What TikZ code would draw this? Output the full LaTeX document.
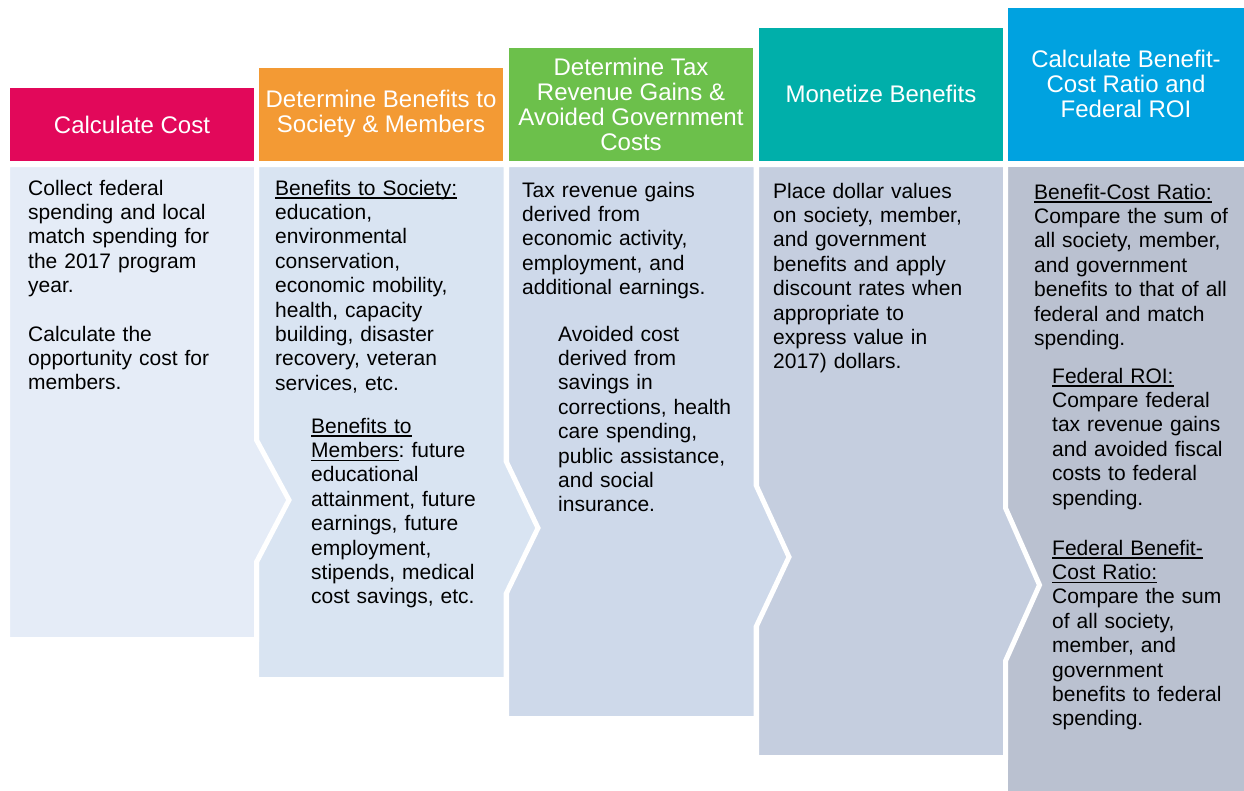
\documentclass[tikz,border=0pt]{standalone}
\usepackage{fontspec}
\setmainfont{Liberation Sans}
\frenchspacing
\newcommand{\myul}[1]{\leavevmode\setbox0\hbox{#1}\rlap{\rule[-3.5pt]{\wd0}{1.4pt}}\box0}
\definecolor{hdrA}{HTML}{E2085A}
\definecolor{hdrB}{HTML}{F39A34}
\definecolor{hdrC}{HTML}{6CC04B}
\definecolor{hdrD}{HTML}{00AFAA}
\definecolor{hdrE}{HTML}{00A2E0}
\definecolor{bodA}{HTML}{E5ECF7}
\definecolor{bodB}{HTML}{D9E4F2}
\definecolor{bodC}{HTML}{CED9EA}
\definecolor{bodD}{HTML}{C5CEDF}
\definecolor{bodE}{HTML}{BAC1D0}
\begin{document}
\begin{tikzpicture}[x=1pt,y=-1pt,
  bodyshape/.style={draw=white,line width=5pt},
  hdrtext/.style={text=white,align=center,inner sep=0pt,font=\fontsize{24}{25}\selectfont},
  bodytext/.style={anchor=base west,inner sep=0pt,text width=240pt,align=left,
    font=\fontsize{21}{24.4}\selectfont\frenchspacing,text=black}]
\useasboundingbox (0,0) rectangle (1244,790);
\path[clip] (0,0) rectangle (1244,790);
\fill[white] (0,0) rectangle (1244,790);
% bodies, drawn right to left
\path[bodyshape,fill=bodE] (1005.5,164.5) rectangle (1260,810);
\path[bodyshape,fill=bodD] (756.5,164.5) -- (1005.5,164.5) -- (1005.5,508) -- (1039.5,585) -- (1005.5,661) -- (1005.5,757.5) -- (756.5,757.5) -- cycle;
\path[bodyshape,fill=bodC] (506.5,164.5) -- (756,164.5) -- (756,485) -- (789,557) -- (756,627) -- (756,718.5) -- (506.5,718.5) -- cycle;
\path[bodyshape,fill=bodB] (256.5,164.5) -- (506,164.5) -- (506,461) -- (538,528) -- (506,594) -- (506,679.5) -- (256.5,679.5) -- cycle;
\path[bodyshape,fill=bodA] (7.5,164.5) -- (256.5,164.5) -- (256.5,440) -- (289,500) -- (256.5,562) -- (256.5,639.5) -- (7.5,639.5) -- cycle;
% headers
\fill[hdrA] (10,88) rectangle (254,161);
\fill[hdrB] (259,68) rectangle (503,161);
\fill[hdrC] (509,48) rectangle (753,161);
\fill[hdrD] (759,28) rectangle (1003,161);
\fill[hdrE] (1008,8) rectangle (1244,161);
\node[hdrtext] (h1) at (132,124.5) {Calculate Cost};
\node[hdrtext] (h2) at (381,114) {Determine Benefits to\\Society \& Members};
\node[hdrtext] (h3) at (631,104) {Determine Tax\\Revenue Gains \&\\Avoided Government\\Costs};
\node[hdrtext] (h4) at (881,94) {Monetize Benefits};
\node[hdrtext] (h5) at (1126,84) {Calculate Benefit-\\Cost Ratio and\\Federal ROI};
% body texts
\node[bodytext] (t1a) at (28,195) {Collect federal\\spending and local\\match spending for\\the 2017 program\\year.};
\node[bodytext] (t1b) at (28,341) {Calculate the\\opportunity cost for\\members.};
\node[bodytext] (t2a) at (275,195) {\myul{Benefits to Society:}\\education,\\environmental\\conservation,\\economic mobility,\\health, capacity\\building, disaster\\recovery, veteran\\services, etc.};
\node[bodytext] (t2b) at (311,433) {\myul{Benefits to}\\\myul{Members}: future\\educational\\attainment, future\\earnings, future\\employment,\\stipends, medical\\cost savings, etc.};
\node[bodytext] (t3a) at (522,197) {Tax revenue gains\\derived from\\economic activity,\\employment, and\\additional earnings.};
\node[bodytext] (t3b) at (558,341) {Avoided cost\\derived from\\savings in\\corrections, health\\care spending,\\public assistance,\\and social\\insurance.};
\node[bodytext] (t4a) at (773,198) {Place dollar values\\on society, member,\\and government\\benefits and apply\\discount rates when\\appropriate to\\express value in\\2017) dollars.};
\node[bodytext] (t5a) at (1034,199) {\myul{Benefit-Cost Ratio:}\\Compare the sum of\\all society, member,\\and government\\benefits to that of all\\federal and match\\spending.};
\node[bodytext] (t5b) at (1052,383) {\myul{Federal ROI:}\\Compare federal\\tax revenue gains\\and avoided fiscal\\costs to federal\\spending.};
\node[bodytext] (t5c) at (1052,555) {\myul{Federal Benefit-}\\\myul{Cost Ratio:}\\Compare the sum\\of all society,\\member, and\\government\\benefits to federal\\spending.};
\end{tikzpicture}
\end{document}
